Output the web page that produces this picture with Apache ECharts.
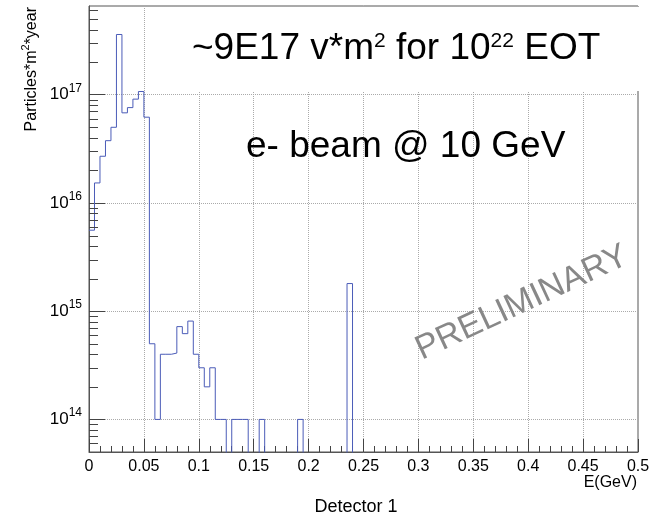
<!DOCTYPE html>
<html>
<head>
<meta charset="utf-8">
<script src="https://cdn.jsdelivr.net/npm/echarts@6/dist/echarts.min.js"></script>
<style>
  html, body { margin: 0; padding: 0; background: #fff; }
  #chart { width: 662px; height: 521px; }
</style>
</head>
<body>
<div id="chart"></div>
<script>
// ---- data ----
const binWidth = 0.005;
const xMin = 0;
const xMax = 0.5;
const xTickInterval = 0.05;
// histogram contents per 0.005 GeV bin, starting at E = 0
const counts = [
  5.6e15, 1.53e16, 2.7e16, 3.76e16, 5.0e16, 3.6e17, 6.8e16, 7.6e16, 9.1e16, 1.07e17,
  6.2e16, 5.0e14, 1.0e14, 4.0e14, 4.0e14, 4.1e14, 7.2e14, 6.2e14, 8.1e14, 4.0e14,
  3.0e14, 2.0e14, 3.0e14, 1.0e14, 1.0e14, 0, 1.0e14, 1.0e14, 1.0e14, 0,
  0, 1.0e14, 0, 0, 0, 0, 0, 0, 1.0e14, 0,
  0, 0, 0, 0, 0, 0, 0, 1.8e15, 0, 0,
  0, 0, 0, 0, 0, 0, 0, 0, 0, 0,
  0, 0, 0, 0, 0, 0, 0, 0, 0, 0,
  0, 0, 0, 0, 0, 0, 0, 0, 0, 0,
  0, 0, 0, 0, 0, 0, 0, 0, 0, 0,
  0, 0, 0, 0, 0, 0, 0, 0, 0, 0
];
const yMin = 5e13;
const yMax = 6.6e17;
const yMinorMultipliers = [2, 3, 4, 5, 6, 7, 8, 9];
const yDecades = [1e13, 1e14, 1e15, 1e16, 1e17];

const titleText = '{a|~9E17 v*m}{s|2}{a| for 10}{s|22}{a| EOT}';
const beamText = 'e- beam @ 10 GeV';
const watermark = 'PRELIMINARY';
const yTitle = '{a|Particles*m}{s|2}{a|*year}';
const xUnit = 'E(GeV)';
const xTitle = 'Detector 1';

// ---- build ----
const FONT = 'Liberation Sans, Arial, Helvetica, sans-serif';
const AX = '#555';
const TK = '#444';
const floorValue = 1e10; // empty bins: drawn below the visible range, clipped away

const minorTicks = [];
yDecades.forEach(d => yMinorMultipliers.forEach(m => {
  const v = d * m;
  if (v > yMin && v < yMax) minorTicks.push(v);
}));

const histData = counts.map((c, i) => [+(i * binWidth).toFixed(4), c > 0 ? c : floorValue]);
const last = counts[counts.length - 1];
histData.push([xMax, last > 0 ? last : floorValue]);

const chart = echarts.init(document.getElementById('chart'), null, { renderer: 'canvas' });
chart.setOption({
  animation: false,
  backgroundColor: '#fff',
  grid: { left: 89, right: 24, top: 6, bottom: 69, show: true, borderColor: AX, borderWidth: 1, backgroundColor: 'transparent' },
  xAxis: [{
    type: 'value', min: xMin, max: xMax, interval: xTickInterval,
    axisLine: { show: true, onZero: false, lineStyle: { color: AX, width: 1 } },
    axisTick: { show: true, inside: true, length: 13, lineStyle: { color: TK } },
    minorTick: { show: true, splitNumber: 5, length: 6, lineStyle: { color: TK } },
    axisLabel: {
      color: '#000', fontSize: 16, fontFamily: FONT, margin: 7,
      formatter: v => String(+(+v).toFixed(2))
    },
    splitLine: { show: true, lineStyle: { type: 'dotted', color: '#aaa', width: 1 } },
    minorSplitLine: { show: false }
  }],
  yAxis: [{
    type: 'log', logBase: 10, min: yMin, max: yMax, position: 'left',
    axisLine: { show: true, onZero: false, lineStyle: { color: AX, width: 1 } },
    axisTick: { show: true, inside: true, length: 16, lineStyle: { color: TK, width: 1 } },
    axisLabel: {
      margin: 7, color: '#000', showMinLabel: false, showMaxLabel: false,
      formatter: v => {
        const e = Math.log10(v);
        return Math.abs(e - Math.round(e)) < 1e-6 ? '{b|10}{s|' + Math.round(e) + '}' : '';
      },
      rich: {
        b: { fontSize: 17, fontFamily: FONT, color: '#000' },
        s: { fontSize: 12, fontFamily: FONT, color: '#000', padding: [0, 0, 13, 0] }
      }
    },
    splitLine: { show: true, lineStyle: { type: 'dotted', color: '#aaa', width: 1 } },
    minorTick: { show: false }
  }],
  series: [{
    type: 'line',
    xAxisIndex: 0, yAxisIndex: 0,
    step: 'end',
    showSymbol: false,
    symbol: 'none',
    clip: true,
    lineStyle: { color: '#4b5cb8', width: 1 },
    data: histData,
    z: 3
  }, {
    // minor ticks of the log y axis (2..9 x 10^n), placed through the axis scale
    type: 'custom',
    coordinateSystem: 'cartesian2d',
    xAxisIndex: 0, yAxisIndex: 0,
    silent: true,
    clip: false,
    z: 4,
    data: minorTicks.map(v => [xMin, v]),
    renderItem: (params, api) => {
      const p = api.coord([api.value(0), api.value(1)]);
      const y = Math.round(p[1]) + 0.5;
      return {
        type: 'line',
        shape: { x1: p[0], y1: y, x2: p[0] + 9, y2: y },
        style: { stroke: TK, lineWidth: 1 }
      };
    }
  }],
  graphic: { elements: [
    { type: 'rect', z: 1, shape: { x: 150, y: 7, width: 492, height: 84 }, style: { fill: '#fff' } },
    { type: 'text', z: 5, x: 192, y: 49, style: {
        text: titleText, align: 'left', verticalAlign: 'middle', fill: '#000',
        rich: {
          a: { fontSize: 37, fontFamily: FONT, fill: '#000' },
          s: { fontSize: 21, fontFamily: FONT, fill: '#000', padding: [0, 0, 15, 0] }
        }
    } },
    { type: 'text', z: 5, x: 246, y: 147, style: {
        text: beamText, align: 'left', verticalAlign: 'middle', fill: '#000',
        fontSize: 37, fontFamily: FONT
    } },
    { type: 'text', z: 5, x: 522, y: 303, rotation: 25 * Math.PI / 180, style: {
        text: watermark, align: 'center', verticalAlign: 'middle', fill: '#888',
        fontSize: 34, fontFamily: FONT
    } },
    { type: 'text', z: 5, x: 32, y: 7, rotation: Math.PI / 2, style: {
        text: yTitle, align: 'right', verticalAlign: 'middle', fill: '#000',
        rich: {
          a: { fontSize: 16, fontFamily: FONT, fill: '#000' },
          s: { fontSize: 11, fontFamily: FONT, fill: '#000', padding: [0, 0, 12, 0] }
        }
    } },
    { type: 'text', z: 5, x: 637, y: 483, style: {
        text: xUnit, align: 'right', verticalAlign: 'middle', fill: '#000',
        fontSize: 16, fontFamily: FONT
    } },
    { type: 'text', z: 5, x: 356, y: 507, style: {
        text: xTitle, align: 'center', verticalAlign: 'middle', fill: '#000',
        fontSize: 18, fontFamily: FONT
    } }
  ] }
});
</script>
</body>
</html>
